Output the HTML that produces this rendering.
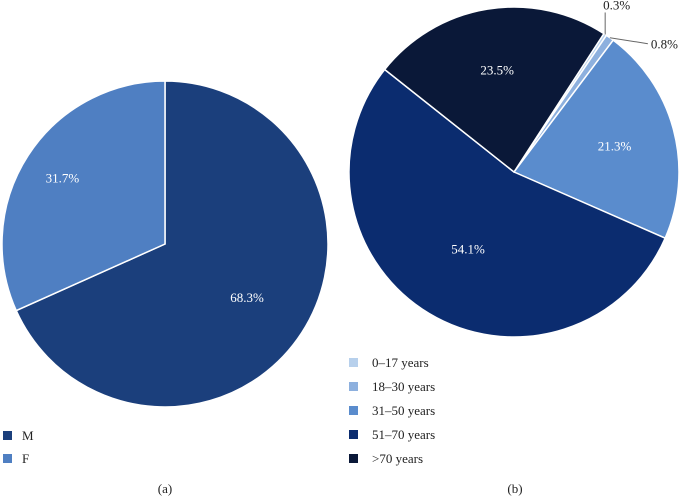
<!DOCTYPE html>
<html><head><meta charset="utf-8"><style>
body{margin:0;background:#fff;width:685px;height:498px;overflow:hidden}
svg text{font-family:"Liberation Serif",serif;font-size:13px}
</style></head><body>
<svg id="c" width="685" height="498"></svg>
<script>
const catsA=["M","F"];
const valsA=[68.3,31.7];
const colsA=["#1b3f7c","#4f7fc2"];
const catsB=["0–17 years","18–30 years","31–50 years","51–70 years",">70 years"];
const valsB=[0.3,0.8,21.3,54.1,23.5];
const colsB=["#b7d0ec","#8db0de","#5a8ccd","#0b2c6f","#0a1838"];
const NS="http://www.w3.org/2000/svg";
const svg=document.getElementById('c');
function mk(t,a,txt){const e=document.createElementNS(NS,t);for(const k in a)e.setAttribute(k,a[k]);if(txt!=null)e.textContent=txt;svg.appendChild(e);return e;}
function pt(cx,cy,r,deg){const a=deg*Math.PI/180;return[cx+r*Math.sin(a),cy-r*Math.cos(a)];}
function labFrac(v){return v>60?0.6:(v>40?0.54:(v>30?0.75:0.63));}
function pie(cx,cy,r,vals,cols,start,id,labelFn){
  const tot=vals.reduce((a,b)=>a+b,0);let a0=start;
  vals.forEach((v,i)=>{const sw=v/tot*360;const a1=a0+sw;
    const p0=pt(cx,cy,r,a0),p1=pt(cx,cy,r,a1);
    const e=mk('path',{d:`M${cx},${cy}L${p0[0]},${p0[1]}A${r},${r} 0 ${sw>180?1:0} 1 ${p1[0]},${p1[1]}Z`,fill:cols[i],stroke:'#fff','stroke-width':1.5});
    
    
    labelFn(i,v,a0+sw/2);a0=a1;});
}
pie(165,244,163,valsA,colsA,0,'pie-a',(i,v,mid)=>{
  const p=pt(165,244,163*labFrac(v),mid);
  const t=mk('text',{x:p[0],y:p[1]+5,'text-anchor':'middle',fill:'#fff'},v.toFixed(1)+'%');
  
  
});
pie(514,172,165,valsB,colsB,33,'pie-b',(i,v,mid)=>{
  let t;
  if(v<2){
    const p=pt(514,172,165,mid);
    if(i===0){mk('path',{d:`M${p[0]},${p[1]}L${p[0]},${p[1]-22}`,stroke:'#666',fill:'none'});
      t=mk('text',{x:p[0]-2,y:p[1]-25,fill:'#222'},v.toFixed(1)+'%');}
    else{mk('path',{d:`M${p[0]},${p[1]}L${p[0]+38},${p[1]+6}`,stroke:'#666',fill:'none'});
      t=mk('text',{x:p[0]+41,y:p[1]+11,fill:'#222'},v.toFixed(1)+'%');}
  } else {
    const p=pt(514,172,165*labFrac(v),mid);
    t=mk('text',{x:p[0],y:p[1]+5,'text-anchor':'middle',fill:'#fff'},v.toFixed(1)+'%');
  }
  
  
});
catsA.forEach((c,i)=>{const y=431+i*23;
  const r=mk('rect',{x:3,y:y,width:9,height:9,fill:colsA[i]});
  
  
  const t=mk('text',{x:22,y:y+9,fill:'#222'},c);
  
  });
catsB.forEach((c,i)=>{const y=358+i*24;
  const r=mk('rect',{x:349,y:y,width:9,height:9,fill:colsB[i]});
  
  
  const t=mk('text',{x:372,y:y+9,fill:'#222'},c);
  
  });
const ca=mk('text',{x:165,y:493,'text-anchor':'middle',fill:'#222'},'(a)');


const cb=mk('text',{x:515,y:493,'text-anchor':'middle',fill:'#222'},'(b)');


</script>
</body></html>
